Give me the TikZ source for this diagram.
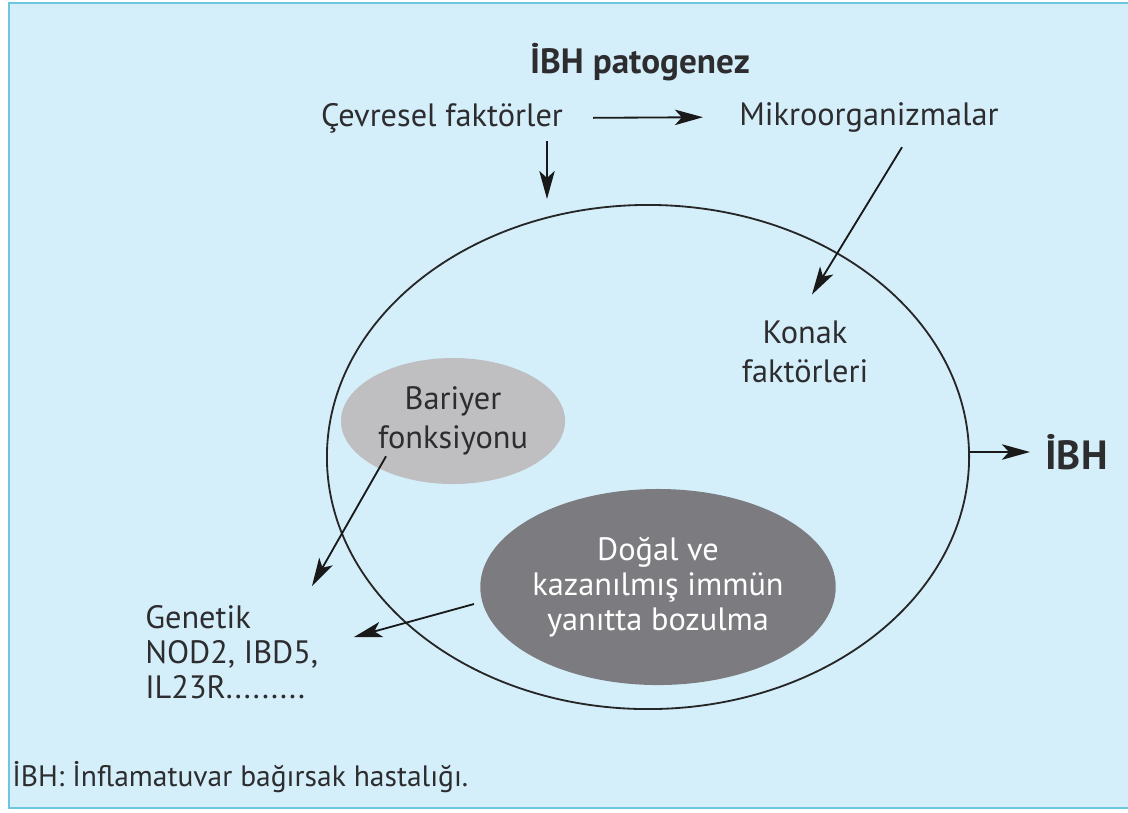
\documentclass[tikz,border=0pt]{standalone}
\usepackage{fontspec}
\setmainfont{PT Sans}
\usetikzlibrary{shapes.geometric,arrows.meta}
\definecolor{panelblue}{RGB}{213,239,250}
\definecolor{panelrim}{RGB}{110,197,222}
\definecolor{inktext}{RGB}{45,45,48}
\definecolor{barriergray}{RGB}{191,191,194}
\definecolor{immunegray}{RGB}{124,124,128}
\tikzset{
	txt/.style={inner sep=0pt, text=inktext, font=\fontsize{23}{28}\selectfont},
	titletxt/.style={txt, font=\fontsize{25}{30}\selectfont\bfseries},
	ibhtxt/.style={txt, font=\fontsize{29}{34}\selectfont\bfseries},
	notetxt/.style={txt, font=\fontsize{21}{24}\selectfont},
	hostring/.style={ellipse, draw=black!85, line width=1.3pt, minimum width=16.05cm, minimum height=12.6cm},
	barrier/.style={ellipse, fill=barriergray, txt, align=center, minimum width=5.6cm, minimum height=3.15cm},
	immune/.style={ellipse, fill=immunegray, txt, text=white, align=center, font=\fontsize{23}{25}\selectfont, minimum width=8cm, minimum height=4.9cm},
	arr/.style={-{Stealth[length=20pt,width=11pt,inset=5pt]}, black!90, line width=1.3pt}
}
\begin{document}
\begin{tikzpicture}[x=0.025cm,y={(0cm,-0.025cm)}]
	\useasboundingbox (0,0) rectangle (1128,812);
	% panel
	\fill[panelblue] (9,3) rectangle (1128,808);
	\draw[panelrim,line width=1.6pt] (1128,3) -- (9,3) -- (9,808) -- (1128,808);
	% labels at the top
	\node[titletxt] (title) at (640,62) {İBH patogenez};
	\node[txt] (cevre) at (442,118) {Çevresel faktörler};
	\node[txt] (mikro) at (869,117) {Mikroorganizmalar};
	% host ring and what sits in it
	\node[hostring] (host) at (648,457) {};
	\node[txt,align=center] (konak) at (805,352) {Konak\\faktörleri};
	\node[barrier] (bariyer) at (453,421) {Bariyer\\fonksiyonu};
	\node[immune] (dogal) at (658,587) {Doğal ve\\kazanılmış immün\\yanıtta bozulma};
	\node[txt,anchor=north west,align=left,font=\fontsize{23}{25}\selectfont] (genetik) at (145,605) {Genetik\\NOD2, IBD5,\\IL23R.........};
	\node[ibhtxt,anchor=west] (ibh) at (1045,452) {İBH};
	\node[notetxt,anchor=west] (note) at (12,777) {İBH: İnflamatuvar bağırsak hastalığı.};
	% arrows
	\draw[arr,shorten <=0.75cm,shorten >=0.9cm] (cevre.east) -- (mikro.west);
	\draw[arr] ([shift={(105,8)}]cevre.south) -- ([shift={(-101,-5)}]host.north);
	\draw[arr] ([shift={(33,15)}]mikro.south) -- ([shift={(7,-26)}]konak.north);
	\draw[arr] ([shift={(-67,-28)}]bariyer.south) -- ([shift={(167,-19)}]genetik.north west);
	\draw[arr] ([shift={(-6,17)}]dogal.west) -- ([shift={(209,32)}]genetik.north west);
	\draw[arr,shorten >=0.375cm] (host.east |- ibh.west) -- (ibh.west);
\end{tikzpicture}
\end{document}
